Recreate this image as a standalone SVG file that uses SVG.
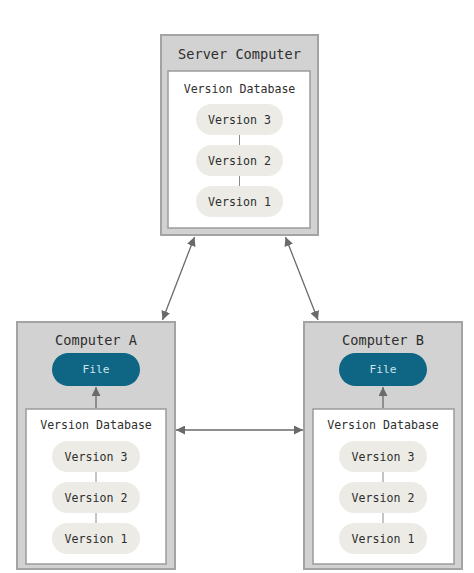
<svg xmlns="http://www.w3.org/2000/svg" width="474" height="573" viewBox="0 0 474 573">
<defs>
<style>
.outer{fill:#d2d2d2;stroke:#a3a3a3;stroke-width:2}
.inner{fill:#ffffff;stroke:#9c9c9c;stroke-width:1.5}
.pill{fill:#ecebe6}
.file{fill:#0e6584}
.t{font-family:"DejaVu Sans Mono","Liberation Mono",monospace;fill:#2e2e2e;text-anchor:middle;dominant-baseline:central}
.title{font-size:13.6px}
.sm{font-size:11.6px}
.ft{fill:#cfe3ea;font-size:11.2px}
.sep{stroke:#8a8a8a;stroke-width:1}
.con{stroke:#6a6a6a;stroke-width:1.3;fill:none}
</style>
<marker id="ah" viewBox="0 0 10 10" refX="10" refY="5" markerWidth="9" markerHeight="9" markerUnits="userSpaceOnUse" orient="auto-start-reverse">
<path d="M0,0 L10,5 L0,10 z" fill="#6a6a6a"/>
</marker>
</defs>
<g id="server">
<rect class="outer" x="161" y="35" width="157" height="200"/>
<rect class="inner" x="168" y="71" width="142" height="157"/>
<text class="t title" x="239.5" y="54">Server Computer</text>
<text class="t sm" x="239.5" y="89">Version Database</text>
<line class="sep" x1="239.5" y1="135" x2="239.5" y2="146"/>
<line class="sep" x1="239.5" y1="176" x2="239.5" y2="187"/>
<rect class="pill" x="196" y="104" width="87" height="31" rx="15.5"/>
<rect class="pill" x="196" y="145" width="87" height="31" rx="15.5"/>
<rect class="pill" x="196" y="186" width="87" height="31" rx="15.5"/>
<text class="t sm" x="239.5" y="120">Version 3</text>
<text class="t sm" x="239.5" y="161">Version 2</text>
<text class="t sm" x="239.5" y="202">Version 1</text>
</g>
<g id="computerA">
<rect class="outer" x="17" y="322" width="158" height="247"/>
<rect class="inner" x="26" y="409" width="140" height="155"/>
<text class="t title" x="96" y="340">Computer A</text>
<rect class="file" x="52" y="353" width="88" height="33" rx="16.5"/>
<text class="t ft" x="96" y="369.5">File</text>
<text class="t sm" x="96" y="425">Version Database</text>
<line class="sep" x1="96" y1="471" x2="96" y2="483"/>
<line class="sep" x1="96" y1="512" x2="96" y2="524"/>
<rect class="pill" x="52" y="441" width="88" height="31" rx="15.5"/>
<rect class="pill" x="52" y="482" width="88" height="31" rx="15.5"/>
<rect class="pill" x="52" y="523" width="88" height="31" rx="15.5"/>
<text class="t sm" x="96" y="456.5">Version 3</text>
<text class="t sm" x="96" y="497.5">Version 2</text>
<text class="t sm" x="96" y="538.5">Version 1</text>
</g>
<g id="computerB">
<rect class="outer" x="304" y="322" width="158" height="247"/>
<rect class="inner" x="313" y="409" width="141" height="155"/>
<text class="t title" x="383" y="340">Computer B</text>
<rect class="file" x="339" y="353" width="88" height="33" rx="16.5"/>
<text class="t ft" x="383" y="369.5">File</text>
<text class="t sm" x="383" y="425">Version Database</text>
<line class="sep" x1="383" y1="471" x2="383" y2="483"/>
<line class="sep" x1="383" y1="512" x2="383" y2="524"/>
<rect class="pill" x="339" y="441" width="88" height="31" rx="15.5"/>
<rect class="pill" x="339" y="482" width="88" height="31" rx="15.5"/>
<rect class="pill" x="339" y="523" width="88" height="31" rx="15.5"/>
<text class="t sm" x="383" y="456.5">Version 3</text>
<text class="t sm" x="383" y="497.5">Version 2</text>
<text class="t sm" x="383" y="538.5">Version 1</text>
</g>
<g id="connectors">
<line class="con" x1="194.5" y1="237" x2="162.5" y2="320" marker-start="url(#ah)" marker-end="url(#ah)"/>
<line class="con" x1="285.5" y1="237" x2="318" y2="320" marker-start="url(#ah)" marker-end="url(#ah)"/>
<line class="con" x1="176" y1="430" x2="303" y2="430" marker-start="url(#ah)" marker-end="url(#ah)"/>
<line class="con" x1="96" y1="408" x2="96" y2="387" marker-end="url(#ah)"/>
<line class="con" x1="383" y1="408" x2="383" y2="387" marker-end="url(#ah)"/>
</g>
</svg>
